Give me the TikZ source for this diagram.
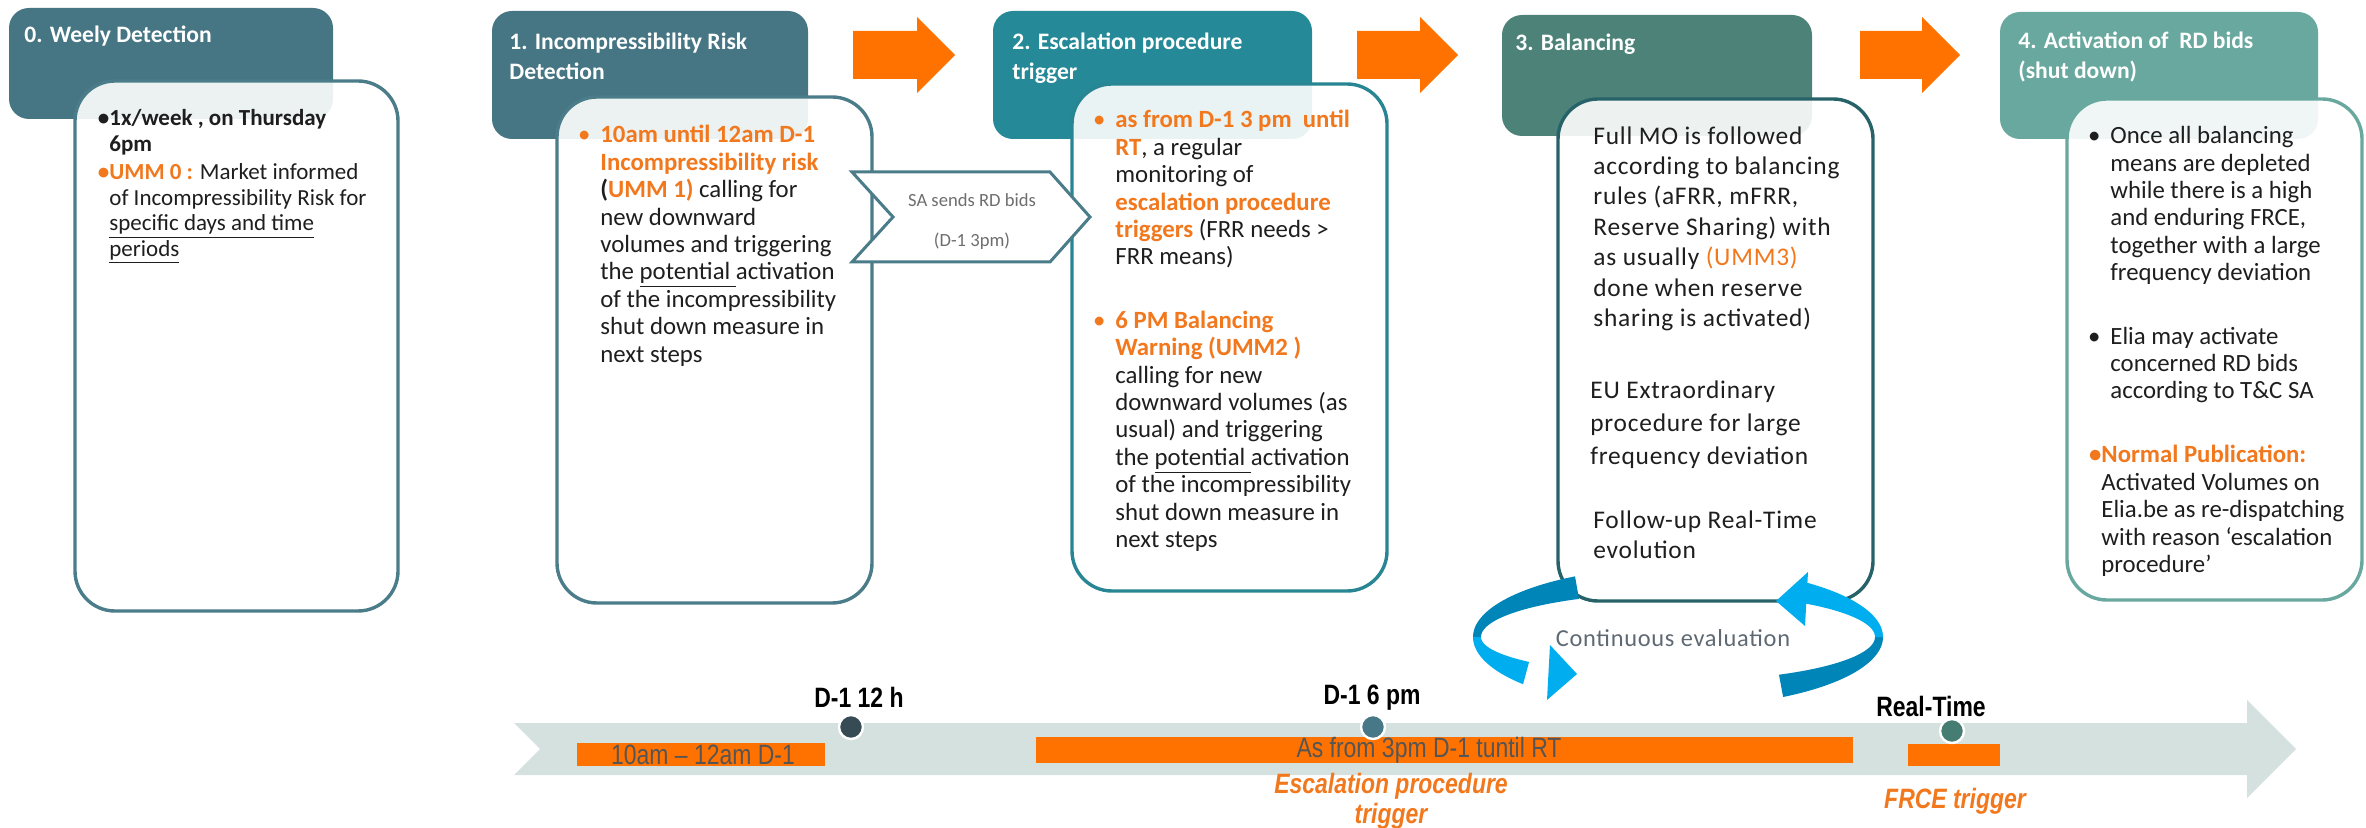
\documentclass[tikz,border=0pt]{standalone}
\usepackage{fontspec}
\setmainfont{Carlito}
\newfontfamily\narrowsf[FakeStretch=0.82]{Liberation Sans}
\newfontfamily\spacedfont[LetterSpace=3]{Carlito}

\definecolor{hdrA}{RGB}{70,117,131}
\definecolor{hdrC}{RGB}{37,137,151}
\definecolor{hdrD}{RGB}{76,130,120}
\definecolor{hdrE}{RGB}{105,168,158}
\definecolor{brdA}{RGB}{74,124,137}
\definecolor{brdC}{RGB}{40,134,148}
\definecolor{brdD}{RGB}{38,98,104}
\definecolor{brdE}{RGB}{105,168,158}
\definecolor{otxt}{RGB}{242,120,30}
\definecolor{oarr}{RGB}{255,114,0}
\definecolor{band}{RGB}{213,225,223}
\definecolor{txtblack}{RGB}{30,30,30}
\definecolor{pentxt}{RGB}{110,110,110}
\definecolor{tlgray}{RGB}{85,85,85}
\definecolor{evalgray}{RGB}{95,105,115}
\definecolor{ribdark}{RGB}{0,133,185}
\definecolor{riblight}{RGB}{0,174,239}
\definecolor{dotA}{RGB}{55,75,85}
\definecolor{dotB}{RGB}{70,120,135}
\definecolor{dotC}{RGB}{70,125,115}

\newcommand\orb[1]{\textcolor{otxt}{\textbf{#1}}}

\begin{document}
\begin{tikzpicture}[x=0.5pt,y=-0.5pt,
  hdr/.style={fill=#1,rounded corners=10pt},
  bodybox/.style={draw=#1,line width=1.7pt,fill=white,fill opacity=0.9,draw opacity=1,rounded corners=20pt},
  htxt/.style={anchor=north west,inner sep=0pt,align=left,text=white,font=\fontsize{11.8}{15}\selectfont\bfseries},
  btxt/.style={anchor=north west,inner sep=0pt,align=left,text=txtblack,font=\fontsize{12.4}{13.7}\selectfont},
  btxtwide/.style={anchor=north west,inner sep=0pt,align=left,text=txtblack,font=\spacedfont\fontsize{12.7}{15.2}\selectfont},
  procarrow/.style={fill=oarr},
  tlbox/.style={fill=oarr},
  tllabel/.style={inner sep=0pt,text=black,font=\narrowsf\fontsize{14}{16}\selectfont\bfseries},
  tlinner/.style={inner sep=0pt,text=tlgray,font=\narrowsf\fontsize{14}{16}\selectfont},
  tltrig/.style={inner sep=0pt,align=center,text=otxt,font=\narrowsf\fontsize{14}{15}\selectfont\bfseries\itshape},
  tldot/.style={circle,draw=white,line width=1.2pt,fill=#1,minimum size=12pt,inner sep=0pt}
]
\useasboundingbox (0,0) rectangle (2366,828);

% ---- step headers ----
\path[hdr=hdrA] (9,8) rectangle (333,119);
\path[hdr=hdrA] (492,11) rectangle (808,139);
\path[hdr=hdrC] (993,11) rectangle (1312,139);
\path[hdr=hdrD] (1502,15) rectangle (1812,136);
\path[hdr=hdrE] (2000,12) rectangle (2318,139);

\node[htxt] (h0) at (24,26) {0. Weely Detection};
\node[htxt] (h1) at (509,33) {1. Incompressibility Risk\\Detection};
\node[htxt] (h2) at (1012,33) {2. Escalation procedure\\trigger};
\node[htxt] (h3) at (1515,34) {3. Balancing};
\node[htxt] (h4) at (2018,32) {4. Activation of \ RD bids\\(shut down)};

% ---- step bodies ----
\path[bodybox=brdA] (75,81) rectangle (398,611);
\path[bodybox=brdA] (557,97) rectangle (872,603);
\path[bodybox=brdC] (1072,84) rectangle (1387,591);
\path[bodybox=brdD] (1558,99) rectangle (1873,601);
\path[bodybox=brdE] (2067,99) rectangle (2362,600);

% ---- orange process arrows ----
\fill[procarrow] (853,31) -- (917,31) -- (917,17) -- (955,55) -- (917,93) -- (917,79) -- (853,79) -- cycle;
\fill[procarrow] (1357,31) -- (1420,31) -- (1420,17) -- (1458,55) -- (1420,93) -- (1420,79) -- (1357,79) -- cycle;
\fill[procarrow] (1860,31) -- (1922,31) -- (1922,17) -- (1960,55) -- (1922,93) -- (1922,79) -- (1860,79) -- cycle;

% ---- body texts ----
\node[btxt,font=\fontsize{11.5}{12.75}\selectfont] (t0) at (109,109) {%
\llap{\textbf{•}}\textbf{1x/week , on Thursday}\\
\textbf{6pm}\\[1.5pt]
\llap{\textcolor{otxt}{\textbf{•}}}\orb{UMM 0 :} Market informed\\
of Incompressibility Risk for\\
\underline{specific days and time}\\
\underline{periods}};

\node[btxt] (t1) at (600,125) {%
\llap{\textcolor{otxt}{•}\hspace{5pt}}\orb{10am until 12am D-1}\\
\orb{Incompressibility risk}\\
\textbf{(}\orb{UMM 1)} calling for\\
new downward\\
volumes and triggering\\
the \underline{potential }activation\\
of the incompressibility\\
shut down measure in\\
next steps};

\node[btxt] (t2) at (1115,110) {%
\llap{\textcolor{otxt}{•}\hspace{5pt}}\orb{as from D-1 3 pm \ until}\\
\orb{RT}, a regular\\
monitoring of\\
\orb{escalation procedure}\\
\orb{triggers} (FRR needs >\\
FRR means)\\[18pt]
\llap{\textcolor{otxt}{•}\hspace{5pt}}\orb{6 PM Balancing}\\
\orb{Warning (UMM2 )}\\
calling for new\\
downward volumes (as\\
usual) and triggering\\
the \underline{potential }activation\\
of the incompressibility\\
shut down measure in\\
next steps};

\node[btxtwide] (t3a) at (1593,126) {%
Full MO is followed\\
according to balancing\\
rules (aFRR, mFRR,\\
Reserve Sharing) with\\
as usually \textcolor{otxt}{(UMM3)}\\
done when reserve\\
sharing is activated)};
\node[btxtwide,font=\spacedfont\fontsize{12.7}{16.5}\selectfont] (t3b) at (1590,380) {%
EU Extraordinary\\
procedure for large\\
frequency deviation};
\node[btxtwide] (t3c) at (1593,510) {%
Follow-up Real-Time\\
evolution};

\node[btxt] (t4a) at (2110,126) {%
\llap{•\hspace{5pt}}Once all balancing\\
means are depleted\\
while there is a high\\
and enduring FRCE,\\
together with a large\\
frequency deviation\\[18pt]
\llap{•\hspace{5pt}}Elia may activate\\
concerned RD bids\\
according to T\&C SA};
\node[btxt] (t4b) at (2101,445) {%
\llap{\textcolor{otxt}{\textbf{•}}}\orb{Normal Publication:}\\
Activated Volumes on\\
Elia.be as re-dispatching\\
with reason ‘escalation\\
procedure’};

% ---- bid submission tag between steps 1 and 2 ----
\filldraw[draw=brdA,fill=white,line width=1.5pt,line join=miter]
  (852,172) -- (1050,172) -- (1090,217) -- (1050,262) -- (852,262) -- (893,217) -- cycle;
\node[inner sep=0pt,align=center,text=pentxt,font=\fontsize{9.3}{20}\selectfont] (sa) at (972,222)
  {SA sends RD bids\\(D-1 3pm)};

% ---- continuous evaluation loop ----
\fill[ribdark] plot[domain=120:180,samples=30] ({1677+204*cos(\x)},{637-70*sin(\x)})
  -- plot[domain=180:120,samples=30] ({1677+196*cos(\x)},{637-44*sin(\x)}) -- cycle;
\fill[riblight] plot[domain=180:221,samples=30] ({1677+204*cos(\x)},{637-72*sin(\x)})
  -- plot[domain=221:180,samples=30] ({1677+196*cos(\x)},{637-38*sin(\x)}) -- cycle;
\fill[riblight] (1550,645) -- (1577,674) -- (1547,700) -- cycle;

\fill[ribdark] plot[domain=-59:0,samples=30] ({1677+206*cos(\x)},{637-70*sin(\x)})
  -- plot[domain=0:-59,samples=30] ({1677+198*cos(\x)},{637-44*sin(\x)}) -- cycle;
\fill[riblight] plot[domain=0:52,samples=30] ({1677+206*cos(\x)},{637-70*sin(\x)})
  -- plot[domain=52:0,samples=30] ({1677+198*cos(\x)},{637-44*sin(\x)}) -- cycle;
\fill[riblight] (1808,572) -- (1776,601) -- (1805,626) -- cycle;

\node[inner sep=0pt,text=evalgray,font=\spacedfont\fontsize{12.2}{14}\selectfont] (eval) at (1673,638) {Continuous evaluation};

% ---- timeline ----
\fill[band] (514,723) -- (2247,723) -- (2247,700) -- (2296,749) -- (2247,798) -- (2247,775) -- (514,775) -- (540,749) -- cycle;

\fill[tlbox] (577,743) rectangle (825,766);
\fill[tlbox] (1036,737) rectangle (1853,763);
\fill[tlbox] (1908,744) rectangle (2000,766);

\node[tlinner] (r1) at (703,755) {10am – 12am D-1};
\node[tlinner] (r2) at (1429,750) {As from 3pm D-1 tuntil RT};

\node[tldot=dotA] (m1) at (851,727) {};
\node[tldot=dotB] (m2) at (1373,727) {};
\node[tldot=dotC] (m3) at (1952,731) {};

\node[tllabel] (m1l) at (859,697) {D-1 12 h};
\node[tllabel] (m2l) at (1372,698) {D-1 6 pm};
\node[tllabel] (m3l) at (1931,706) {Real-Time};

\node[tltrig] (esc) at (1391,801) {Escalation procedure\\trigger};
\node[tltrig] (frce) at (1955,801) {FRCE trigger};

\end{tikzpicture}
\end{document}
